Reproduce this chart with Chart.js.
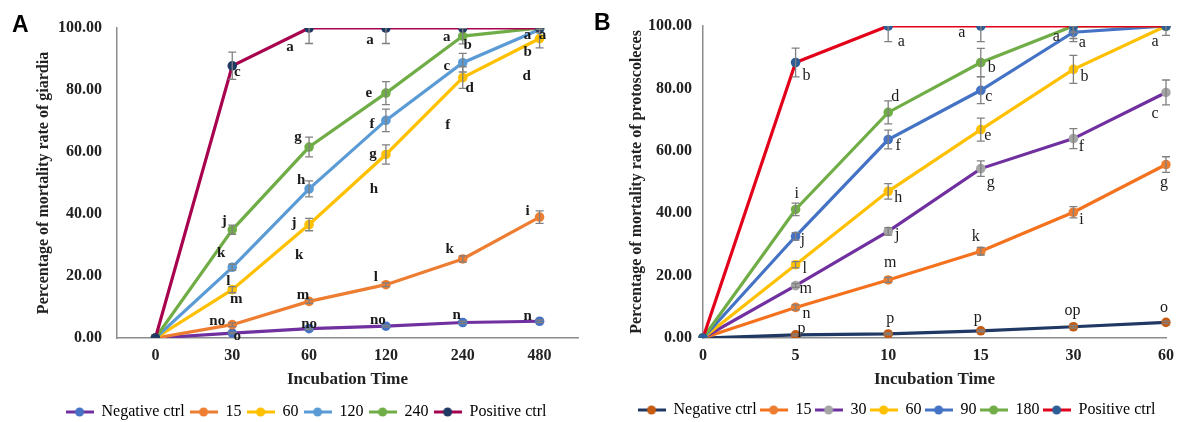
<!DOCTYPE html>
<html>
<head>
<meta charset="utf-8">
<script src="https://cdn.jsdelivr.net/npm/chart.js@4.4.0/dist/chart.umd.min.js"></script>
<style>
  body { margin: 0; background: #fff; width: 1189px; height: 422px; overflow: hidden; position: relative; }
  .panel { position: absolute; top: 0; height: 422px; }
  #wrapA { left: 0; width: 585px; }
  #wrapB { left: 588px; width: 601px; }
  .tag { position: absolute; font: bold 23px "Liberation Sans", Arial, sans-serif; color: #000; }
</style>
</head>
<body>
<div class="panel" id="wrapA"><canvas id="chartA" width="585" height="422"></canvas></div>
<div class="panel" id="wrapB"><canvas id="chartB" width="601" height="422"></canvas></div>
<div class="tag" style="left:12px;top:11px">A</div>
<div class="tag" style="left:594px;top:9px">B</div>
<script>
// Panel A - giardia
var timesA = ['0', '30', '60', '120', '240', '480'];
var negA  = [0, 1.6, 3.0, 3.8, 5.0, 5.4];
var c15A  = [0, 4.3, 11.8, 17.2, 25.5, 39.0];
var c60A  = [0, 15.6, 36.6, 59.2, 84.0, 96.6];
var c120A = [0, 22.8, 48.1, 70.2, 88.8, 99.5];
var c240A = [0, 34.9, 61.6, 79.0, 97.4, 100];
var posA  = [0, 87.8, 100, 100, 100, 100];

var negAErr  = [0, 0.3, 0.3, 0.3, 0.4, 0.4];
var c15AErr  = [0, 0.6, 0.6, 0.6, 1.0, 2.0];
var c60AErr  = [0, 1.0, 2.0, 3.1, 3.5, 3.0];
var c120AErr = [0, 1.0, 2.6, 3.6, 3.0, 1.0];
var c240AErr = [0, 1.5, 3.2, 3.7, 2.5, 0];
var posAErr  = [0, 4.4, 5.0, 5.0, 0, 0];

var negALab  = ['', 'o', 'no', 'no', 'n', 'n'];
var c15ALab  = ['', 'no', 'm', 'l', 'k', 'i'];
var c60ALab  = ['', 'l', 'j', 'g', 'd', 'b'];
var c60ALab2 = ['', 'm', 'k', 'h', 'f', 'd'];
var c120ALab = ['', 'k', 'h', 'f', 'c', ''];
var c240ALab = ['', 'j', 'g', 'e', 'b', 'a'];
var posALab  = ['', 'c', 'a', 'a', 'a', 'a'];

// Panel B - protoscoleces
var timesB = ['0', '5', '10', '15', '30', '60'];
var negB  = [0, 1.0, 1.3, 2.3, 3.6, 5.0];
var c15B  = [0, 9.8, 18.6, 27.8, 40.3, 55.6];
var c30B  = [0, 16.8, 34.2, 54.3, 63.9, 78.7];
var c60B  = [0, 23.5, 47.0, 66.8, 86.1, 100];
var c90B  = [0, 32.6, 63.6, 79.4, 98.0, 100];
var c180B = [0, 41.2, 72.3, 88.3, 100, 100];
var posB  = [0, 88.3, 100, 100, 100, 100];

var negBErr  = [0, 0.3, 0.3, 0.3, 0.4, 0.4];
var c15BErr  = [0, 0.8, 0.8, 1.2, 1.8, 2.5];
var c30BErr  = [0, 0.6, 1.2, 2.5, 3.2, 4.0];
var c60BErr  = [0, 1.0, 2.5, 3.7, 4.5, 0];
var c90BErr  = [0, 1.2, 3.0, 4.3, 2.0, 0];
var c180BErr = [0, 2.0, 3.7, 4.5, 2.0, 0];
var posBErr  = [0, 4.6, 5.0, 5.0, 5.0, 3.0];

var negBLab  = ['', 'p', 'p', 'p', 'op', 'o'];
var c15BLab  = ['', 'n', 'm', 'k', 'i', 'g'];
var c30BLab  = ['', 'm', 'j', 'g', 'f', 'c'];
var c60BLab  = ['', 'l', 'h', 'e', 'b', ''];
var c90BLab  = ['', 'j', 'f', 'c', 'a', ''];
var c180BLab = ['', 'i', 'd', 'b', '', ''];
var posBLab  = ['', 'b', 'a', 'a', 'a', 'a'];

// where each letter sits relative to its point (px)
var offs = {
  negA:  [null, [5, 3], [0, -5], [-8, -6], [-6, -7], [-12, -5]],
  c15A:  [null, [-15, -4], [-6, -6], [-10, -8], [-13, -10], [-12, -6]],
  c60A:  [null, [-4, -9], [-15, -1], [-13, 0], [7, 11], [-12, 14]],
  c60A2: [null, [4, 9], [-10, 31], [-12, 35], [-15, 48], [-13, 38]],
  c120A: [null, [-11, -14], [-8, -9], [-14, 4], [-16, 3], null],
  c240A: [null, [-8, -9], [-11, -10], [-17, 0], [5, 9], [3, 7]],
  posA:  [null, [5, 6], [-19, 19], [-16, 12], [-16, 9], [-12, 7]],
  negB:  [null, [6, -6], [2, -15], [-3, -13], [-1, -16], [-2, -15]],
  c15B:  [null, [11, 6], [2, -17], [-5, -14], [8, 8], [-2, 18]],
  c30B:  [null, [10, 3], [9, 4], [10, 14], [8, 8], [-11, 21]],
  c60B:  [null, [9, 4], [10, 6], [7, 6], [11, 7], null],
  c90B:  [null, [7, 4], [10, 6], [8, 7], [9, 11], null],
  c180B: [null, [1, -16], [7, -16], [11, 5], null, null],
  posB:  [null, [11, 13], [13, 16], [-19, 7], [-17, 11], [-11, 16]]
};

var SERIF = '"Liberation Serif", "Times New Roman", serif';

var errorBars = {
  id: 'errorBars',
  afterDatasetsDraw: function(chart) {
    var ctx = chart.ctx, y = chart.scales.y, area = chart.chartArea;
    ctx.save();
    ctx.beginPath();
    ctx.rect(area.left - 20, area.top, area.right - area.left + 40, area.bottom - area.top + 20);
    ctx.clip();
    ctx.strokeStyle = '#808080';
    ctx.lineWidth = 1.3;
    chart.data.datasets.forEach(function(ds, i) {
      if (!ds.errors) return;
      var meta = chart.getDatasetMeta(i);
      meta.data.forEach(function(pt, j) {
        var e = ds.errors[j];
        if (!e) return;
        var y1 = y.getPixelForValue(ds.data[j] - e), y2 = y.getPixelForValue(ds.data[j] + e);
        ctx.beginPath();
        ctx.moveTo(pt.x, y1); ctx.lineTo(pt.x, y2);
        ctx.moveTo(pt.x - 4, y1); ctx.lineTo(pt.x + 4, y1);
        ctx.moveTo(pt.x - 4, y2); ctx.lineTo(pt.x + 4, y2);
        ctx.stroke();
      });
    });
    ctx.restore();
  }
};

var letters = {
  id: 'letters',
  afterDatasetsDraw: function(chart, args, opts) {
    var ctx = chart.ctx;
    ctx.save();
    ctx.font = opts.font;
    ctx.fillStyle = '#1a1a1a';
    ctx.textAlign = 'center';
    ctx.textBaseline = 'middle';
    chart.data.datasets.forEach(function(ds, i) {
      var meta = chart.getDatasetMeta(i);
      (ds.letterSets || []).forEach(function(set) {
        set[0].forEach(function(t, j) {
          var o = set[1][j];
          if (!t || !o) return;
          ctx.fillText(t, meta.data[j].x + o[0], meta.data[j].y + o[1]);
        });
      });
    });
    ctx.restore();
  }
};

function legendIcon(line, marker) {
  var c = document.createElement('canvas');
  c.width = 28; c.height = 12;
  var g = c.getContext('2d');
  g.strokeStyle = line; g.lineWidth = 3;
  g.beginPath(); g.moveTo(0, 6); g.lineTo(28, 6); g.stroke();
  g.fillStyle = marker;
  g.beginPath(); g.arc(14, 6, 4.5, 0, Math.PI * 2); g.fill();
  return c;
}

function series(label, data, errors, line, marker, letterSets, order) {
  return {
    label: label, data: data, errors: errors, letterSets: letterSets,
    borderColor: line, backgroundColor: line, borderWidth: 3.2,
    pointBackgroundColor: marker, pointBorderWidth: 0, pointRadius: 4.8,
    tension: 0, order: order
  };
}

function makeChart(id, labels, datasets, o) {
  return new Chart(document.getElementById(id).getContext('2d'), {
    type: 'line',
    data: { labels: labels, datasets: datasets },
    plugins: [errorBars, letters],
    options: {
      responsive: false,
      animation: false,
      layout: { padding: o.padding },
      plugins: {
        tooltip: { enabled: false },
        letters: { font: o.letterFont },
        legend: {
          position: 'bottom',
          labels: {
            usePointStyle: true, pointStyleWidth: 28, padding: o.legendPad, color: '#222',
            font: { family: SERIF, size: 16 },
            generateLabels: function(chart) {
              return chart.data.datasets.map(function(ds, i) {
                return {
                  text: ds.label, datasetIndex: i, hidden: false, lineWidth: 0,
                  strokeStyle: 'rgba(0,0,0,0)', fillStyle: ds.borderColor,
                  pointStyle: legendIcon(ds.borderColor, ds.pointBackgroundColor)
                };
              });
            }
          }
        }
      },
      scales: {
        x: {
          offset: o.offset,
          grid: { display: false, drawTicks: false },
          border: { display: true, color: '#8c8c8c', width: 1.5 },
          ticks: { padding: 8, color: '#222', font: { family: SERIF, size: 16, weight: 'bold' } },
          title: { display: true, text: 'Incubation Time', color: '#222', padding: { top: 4, bottom: 9 },
                   font: { family: SERIF, size: 17, weight: 'bold' } },
          afterFit: function(s) { s.height = o.xHeight; }
        },
        y: {
          min: 0, max: 100,
          grid: { display: false, drawTicks: false },
          border: { display: true, color: '#8c8c8c', width: 1.5 },
          ticks: { stepSize: 20, padding: o.tickPad, color: '#222',
                   font: { family: SERIF, size: 16, weight: 'bold' },
                   callback: function(v) { return v.toFixed(2); } },
          title: { display: true, text: o.yTitle, color: '#222', padding: 0,
                   font: { family: SERIF, size: 16, weight: 'bold' } },
          afterFit: function(s) { s.width = o.yWidth; }
        }
      }
    }
  });
}

document.addEventListener('DOMContentLoaded', function() {
  makeChart('chartA', timesA, [
    series('Negative ctrl', negA, negAErr, '#7030A0', '#4472C4', [[negALab, offs.negA]], 5),
    series('15', c15A, c15AErr, '#ED7D31', '#ED7D31', [[c15ALab, offs.c15A]], 4),
    series('60', c60A, c60AErr, '#FFC000', '#FFC000', [[c60ALab, offs.c60A], [c60ALab2, offs.c60A2]], 3),
    series('120', c120A, c120AErr, '#5B9BD5', '#5B9BD5', [[c120ALab, offs.c120A]], 2),
    series('240', c240A, c240AErr, '#70AD47', '#70AD47', [[c240ALab, offs.c240A]], 1),
    series('Positive ctrl', posA, posAErr, '#A8034F', '#1F3864', [[posALab, offs.posA]], 0)
  ], {
    padding: { left: 34, right: 7, top: 28, bottom: -8 },
    offset: true, xHeight: 61, yWidth: 83, tickPad: 15, legendPad: 5,
    yTitle: 'Percentage of mortality rate of giardia',
    letterFont: 'bold 15px ' + SERIF
  });

  makeChart('chartB', timesB, [
    series('Negative ctrl', negB, negBErr, '#1F3864', '#C55A11', [[negBLab, offs.negB]], 6),
    series('15', c15B, c15BErr, '#F4721E', '#ED7D31', [[c15BLab, offs.c15B]], 5),
    series('30', c30B, c30BErr, '#7030A0', '#A5A5A5', [[c30BLab, offs.c30B]], 4),
    series('60', c60B, c60BErr, '#FFC000', '#FFC000', [[c60BLab, offs.c60B]], 3),
    series('90', c90B, c90BErr, '#4472C4', '#4472C4', [[c90BLab, offs.c90B]], 2),
    series('180', c180B, c180BErr, '#70AD47', '#70AD47', [[c180BLab, offs.c180B]], 1),
    series('Positive ctrl', posB, posBErr, '#E2001A', '#2E5E96', [[posBLab, offs.posB]], 0)
  ], {
    padding: { left: 39, right: 23, top: 26, bottom: -6 },
    offset: false, xHeight: 61, yWidth: 76, tickPad: 11, legendPad: 3,
    yTitle: 'Percentage of mortality rate of protoscoleces',
    letterFont: '16px ' + SERIF
  });
});
</script>
</body>
</html>
